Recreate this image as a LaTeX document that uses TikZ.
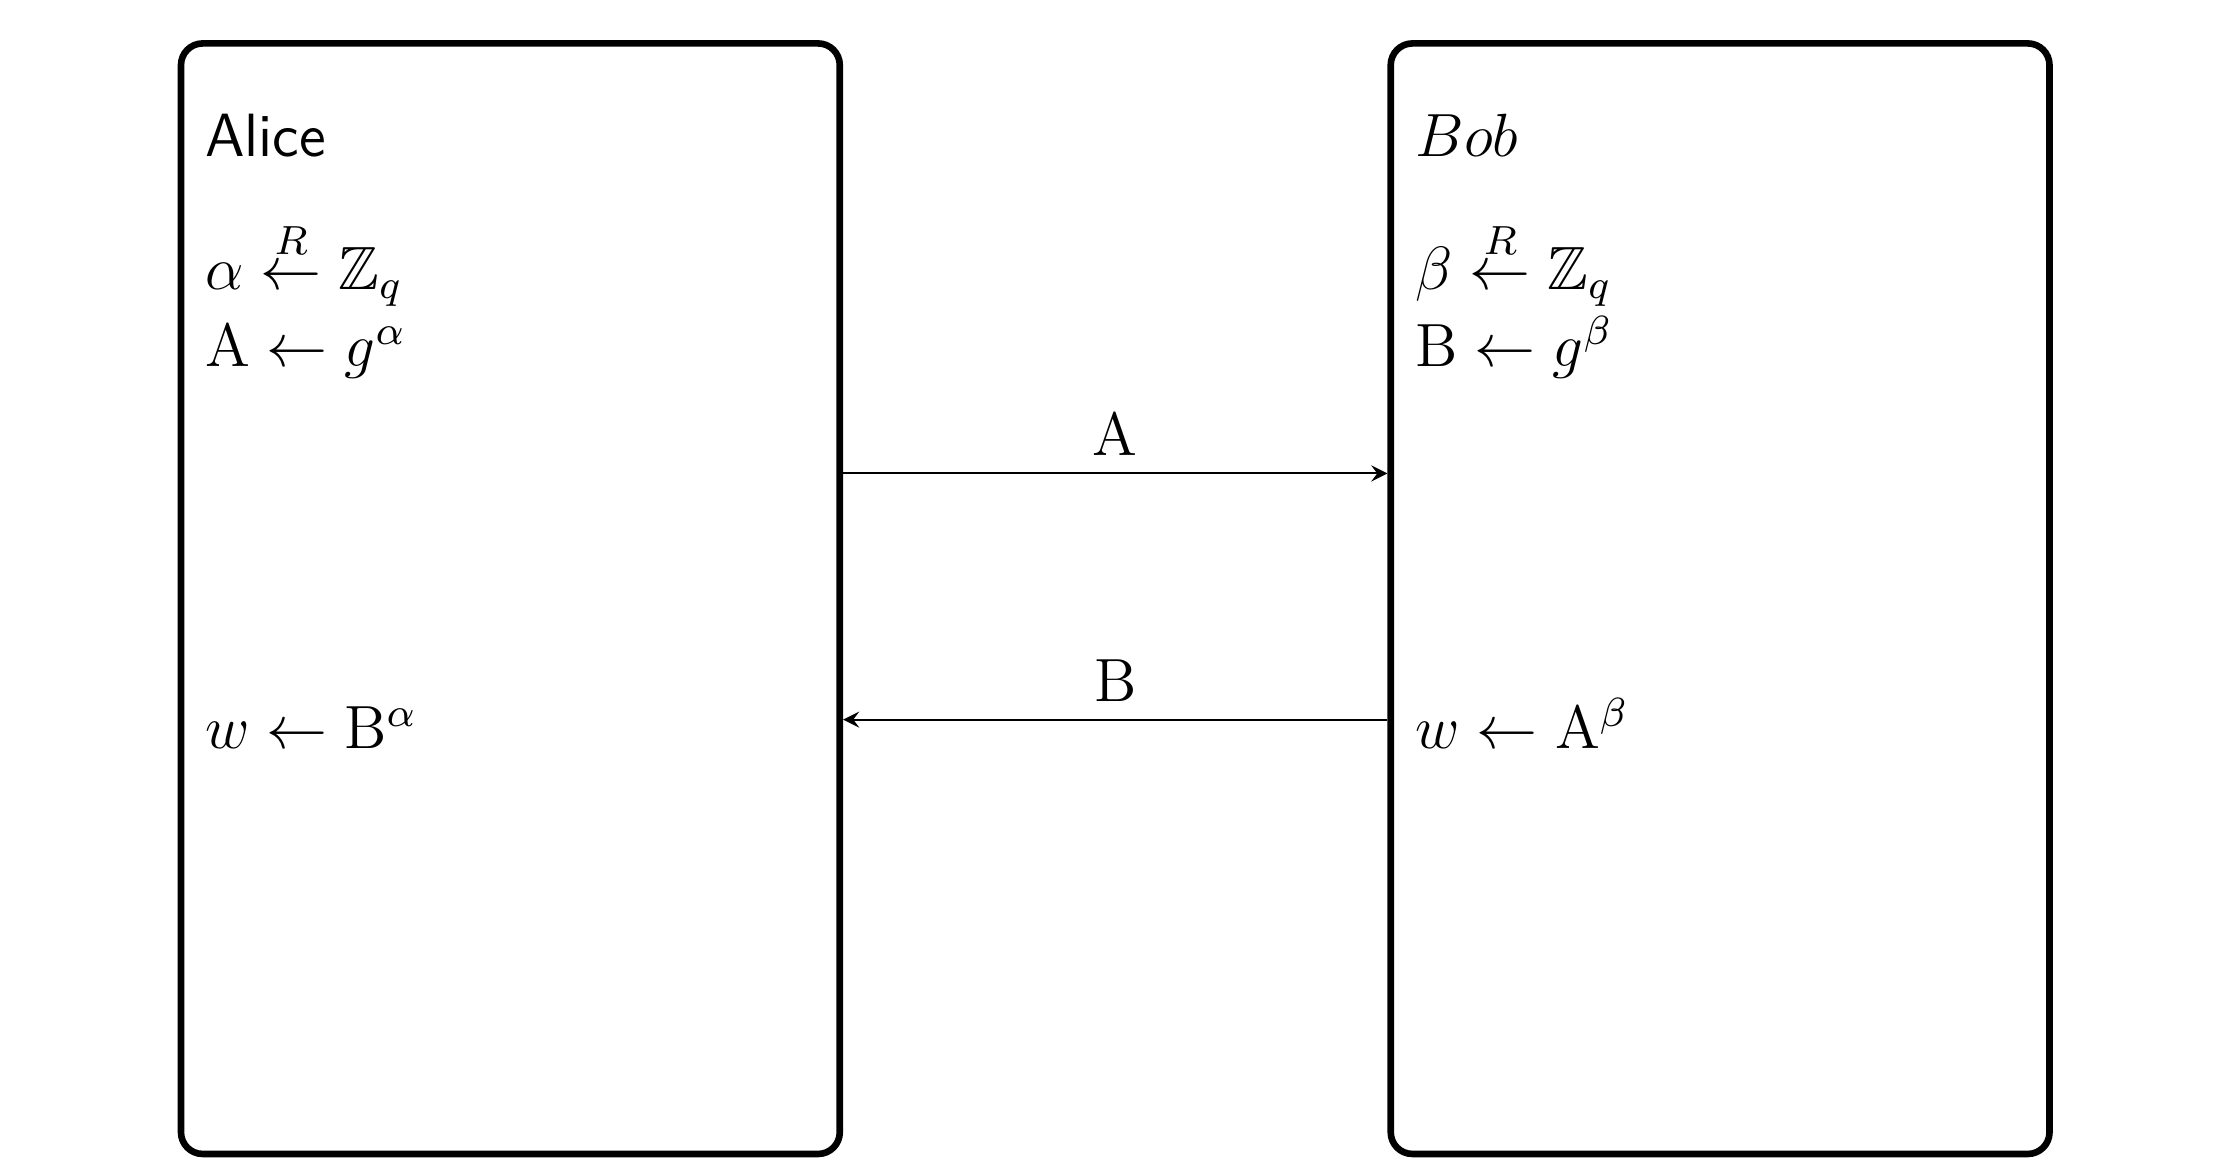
\documentclass[tikz,border=0pt]{standalone}
\usepackage{amsmath}
\usepackage{amsfonts}
\usetikzlibrary{arrows}

\begin{document}
\begin{tikzpicture}[>=stealth, font=\large]
    \tikzstyle{party} = [draw, rectangle, rounded corners=0.15cm, line width=1.3pt, minimum width=4.55cm, minimum height=7.67cm]
    \tikzstyle{comp} = [anchor=base west, inner sep=0pt]

    \useasboundingbox (0,0) rectangle (15.45,8.03);

    \node[party] (alice) at (3.525,3.895) {};
    \node[party] (bob) at (11.88,3.895) {};

    \node[comp] (aname) at (1.41,6.95) {\textsf{Alice}};
    \node[comp] (bname) at (9.77,6.95) {$Bob$};

    \node[comp] (arand) at (1.41,6.03) {$\alpha \stackrel{R}{\leftarrow} \mathbb{Z}_q$};
    \node[comp] (apub) at (1.41,5.50) {$\mathrm{A} \leftarrow g^{\alpha}$};
    \node[comp] (brand) at (9.77,6.03) {$\beta \stackrel{R}{\leftarrow} \mathbb{Z}_q$};
    \node[comp] (bpub) at (9.77,5.50) {$\mathrm{B} \leftarrow g^{\beta}$};

    \node[comp] (akey) at (1.41,2.86) {$w \leftarrow \mathrm{B}^{\alpha}$};
    \node[comp] (bkey) at (9.77,2.86) {$w \leftarrow \mathrm{A}^{\beta}$};

    \coordinate (msgA) at (0,4.76);
    \coordinate (msgB) at (0,3.06);

    \draw[->] (alice.east |- msgA) -- node[above] {$\mathrm{A}$} (bob.west |- msgA);
    \draw[->] (bob.west |- msgB) -- node[above] {$\mathrm{B}$} (alice.east |- msgB);

    % widen the page a little so the scale matches
    \useasboundingbox (0,0) rectangle (15.65,8.14);
\end{tikzpicture}
\end{document}
